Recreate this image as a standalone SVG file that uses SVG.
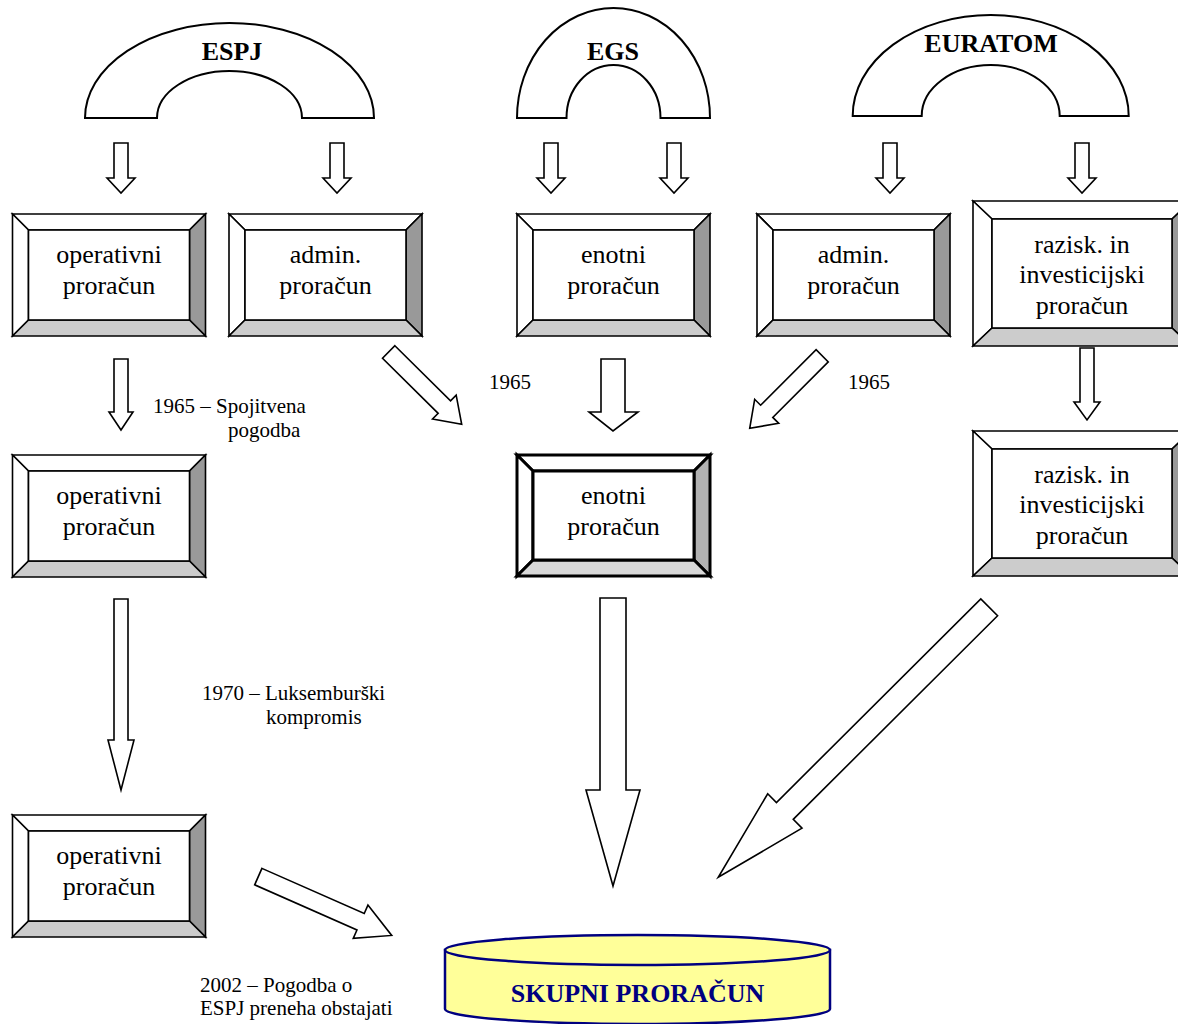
<svg xmlns="http://www.w3.org/2000/svg" xmlns:xlink="http://www.w3.org/1999/xlink" width="1178" height="1024" viewBox="0 0 1178 1024">
<style>
.ln{stroke:#000;stroke-width:1.6;stroke-linejoin:miter}
.arch{fill:#fff;stroke:#000;stroke-width:2}
.arr{fill:#fff;stroke:#000;stroke-width:1.6;stroke-linejoin:miter}
.bt{font-family:"Liberation Serif","Times New Roman",serif;font-size:26px;text-anchor:middle;fill:#000}
.ht{font-family:"Liberation Serif","Times New Roman",serif;font-size:26px;font-weight:bold;text-anchor:middle;fill:#000}
.lb{font-family:"Liberation Serif","Times New Roman",serif;font-size:21px;fill:#000}
.w{fill:#fff}.d{fill:#999}.g{fill:#ccc}
</style>
<defs>
<g id="bevA" class="ln">
<polygon class="w" points="0,0 193,0 177,16 16,16"/>
<polygon class="w" points="0,0 16,16 16,106 0,122"/>
<polygon class="d" points="193,0 193,122 177,106 177,16"/>
<polygon class="g" points="0,122 16,106 177,106 193,122"/>
<rect class="w" x="16" y="16" width="161" height="90"/>
</g>
<g id="bevB" class="ln">
<polygon class="w" points="0,0 218,0 199,18 19,18"/>
<polygon class="w" points="0,0 19,18 19,127 0,145"/>
<polygon class="d" points="218,0 218,145 199,127 199,18"/>
<polygon class="g" points="0,145 19,127 199,127 218,145"/>
<rect class="w" x="19" y="18" width="180" height="109"/>
</g>
<polygon id="sdn" class="arr" points="-7,0 7,0 7,35 14,35 0,50 -14,35 -7,35"/>
</defs>

<g id="arch-espj">
<path class="arch" d="M85,118 A144.5,95 0 0 1 374,118 L302,118 A72.5,47 0 0 0 157,118 Z"/>
<text class="ht" x="232" y="60" font-family="Liberation Serif, serif">ESPJ</text>
</g>
<g id="arch-egs">
<path class="arch" d="M517,118 A96.5,110 0 0 1 710,118 L660.5,118 A47,53 0 0 0 566.5,118 Z"/>
<text class="ht" x="613" y="60" font-family="Liberation Serif, serif">EGS</text>
</g>
<g id="arch-euratom">
<path class="arch" d="M852.7,116 A138,101 0 0 1 1128.7,116 L1059.7,116 A69,51 0 0 0 921.7,116 Z"/>
<text class="ht" x="991" y="52" font-family="Liberation Serif, serif">EURATOM</text>
</g>

<g id="box-espj-op1" font-family="Liberation Serif, serif">
<use xlink:href="#bevA" x="12.5" y="214"/>
<text class="bt" x="109" y="263">operativni</text>
<text class="bt" x="109" y="294">proračun</text>
</g>
<g id="box-espj-admin" font-family="Liberation Serif, serif">
<use xlink:href="#bevA" x="229" y="214"/>
<text class="bt" x="325.5" y="263">admin.</text>
<text class="bt" x="325.5" y="294">proračun</text>
</g>
<g id="box-egs-enotni" font-family="Liberation Serif, serif">
<use xlink:href="#bevA" x="517" y="214"/>
<text class="bt" x="613.5" y="263">enotni</text>
<text class="bt" x="613.5" y="294">proračun</text>
</g>
<g id="box-eur-admin" font-family="Liberation Serif, serif">
<use xlink:href="#bevA" x="757" y="214"/>
<text class="bt" x="853.5" y="263">admin.</text>
<text class="bt" x="853.5" y="294">proračun</text>
</g>
<g id="box-eur-razisk1" font-family="Liberation Serif, serif">
<use xlink:href="#bevB" x="973" y="201"/>
<text class="bt" x="1082" y="252.5">razisk. in</text>
<text class="bt" x="1082" y="283">investicijski</text>
<text class="bt" x="1082" y="313.5">proračun</text>
</g>
<g id="box-op2" font-family="Liberation Serif, serif">
<use xlink:href="#bevA" x="12.5" y="455"/>
<text class="bt" x="109" y="504">operativni</text>
<text class="bt" x="109" y="535">proračun</text>
</g>
<g id="box-enotni2" font-family="Liberation Serif, serif">
<g stroke="#000" stroke-width="3">
<polygon fill="#fff" points="517,455 710,455 694,471 533,471"/>
<polygon fill="#fff" points="517,455 533,471 533,560 517,576"/>
<polygon fill="#b2b2b2" points="710,455 710,576 694,560 694,471"/>
<polygon fill="#d9d9d9" points="517,576 533,560 694,560 710,576"/>
<rect fill="#fff" x="533" y="471" width="161" height="89"/>
</g>
<text class="bt" x="613.5" y="504">enotni</text>
<text class="bt" x="613.5" y="535">proračun</text>
</g>
<g id="box-eur-razisk2" font-family="Liberation Serif, serif">
<use xlink:href="#bevB" x="973" y="431"/>
<text class="bt" x="1082" y="482.5">razisk. in</text>
<text class="bt" x="1082" y="513">investicijski</text>
<text class="bt" x="1082" y="543.5">proračun</text>
</g>
<g id="box-op3" font-family="Liberation Serif, serif">
<use xlink:href="#bevA" x="12.5" y="815"/>
<text class="bt" x="109" y="864">operativni</text>
<text class="bt" x="109" y="895">proračun</text>
</g>

<g id="box-skupni">
<path d="M445,950 L445,1009 A192.5,15 0 0 0 830,1009 L830,950 Z" fill="#ffff99" stroke="#000080" stroke-width="2.5"/>
<ellipse cx="637.5" cy="950" rx="192.5" ry="15" fill="#ffff99" stroke="#000080" stroke-width="2.5"/>
<text class="ht" x="637.5" y="1002" style="fill:#000080" font-family="Liberation Serif, serif">SKUPNI PRORAČUN</text>
</g>

<g id="connectors">
<use xlink:href="#sdn" x="121" y="143"/>
<use xlink:href="#sdn" x="337" y="143"/>
<use xlink:href="#sdn" x="551" y="143"/>
<use xlink:href="#sdn" x="674" y="143"/>
<use xlink:href="#sdn" x="890" y="143"/>
<use xlink:href="#sdn" x="1082" y="143"/>
<polygon class="arr" points="114,359 128,359 128,412 133,412 121,430 109,412 114,412"/>
<polygon class="arr" points="114,599 128,599 128,740 134,740 121,790 108,740 114,740"/>
<polygon class="arr" points="601,359 625,359 625,412 638,412 613,431 589,412 601,412"/>
<polygon class="arr" points="1080,348 1094,348 1094,402 1100,402 1087,420 1074,402 1080,402"/>
<polygon class="arr" points="600,598 626,598 626,790 640,790 613,886 586,790 600,790"/>
<polygon class="arr" transform="translate(388.7,352) rotate(44.7)" points="0,-8.8 78.3,-8.8 78.3,-16.8 102.7,0 78.3,16.8 78.3,8.8 0,8.8"/>
<polygon class="arr" transform="translate(822.2,355.8) rotate(135)" points="0,-8.6 78.5,-8.6 78.5,-17 102.5,0 78.5,17 78.5,8.6 0,8.6"/>
<polygon class="arr" transform="translate(989.2,607.3) rotate(135.1)" points="0,-11.9 288.5,-11.9 288.5,-24.3 382.5,0 288.5,24.3 288.5,11.9 0,11.9"/>
<polygon class="arr" transform="translate(258.3,876.6) rotate(23.8)" points="0,-9 111.8,-9 111.8,-18.2 145.8,0 111.8,18.2 111.8,9 0,9"/>
</g>

<g id="labels" font-family="Liberation Serif, serif">
<text class="lb" x="153" y="413">1965 – Spojitvena</text>
<text class="lb" x="228" y="437">pogodba</text>
<text class="lb" x="489" y="389">1965</text>
<text class="lb" x="848" y="389">1965</text>
<text class="lb" x="202" y="700">1970 – Luksemburški</text>
<text class="lb" x="266" y="724">kompromis</text>
<text class="lb" x="200" y="992">2002 – Pogodba o</text>
<text class="lb" x="200" y="1015">ESPJ preneha obstajati</text>
</g>
</svg>
